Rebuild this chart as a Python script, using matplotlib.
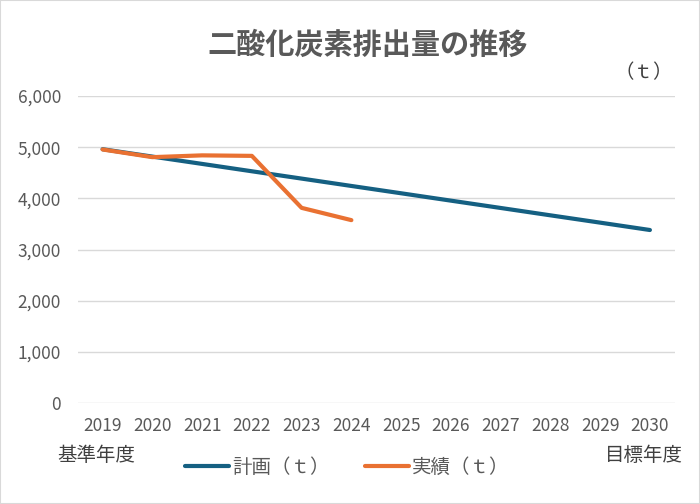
import matplotlib.pyplot as plt
from matplotlib.patches import Rectangle
from matplotlib.ticker import FuncFormatter

plt.rcParams['font.family'] = ['Noto Sans CJK JP', 'DejaVu Sans']

years = [2019, 2020, 2021, 2022, 2023, 2024, 2025, 2026, 2027, 2028, 2029, 2030]
plan = [4960, 4816, 4673, 4529, 4386, 4242, 4099, 3955, 3812, 3668, 3525, 3381]
actual = [4955, 4805, 4840, 4830, 3814, 3574]

fig = plt.figure(figsize=(7, 5.04), dpi=100)
ax = fig.add_axes([0.111, 0.2004, 0.853, 0.6091])

x = list(range(len(years)))
ax.plot(x, plan, color='#156082', lw=3, solid_capstyle='round', label='計画（ｔ）')
ax.plot(x[:len(actual)], actual, color='#E97132', lw=3, solid_capstyle='round', label='実績（ｔ）')

ax.set_xlim(-0.5, len(years) - 0.5)
ax.set_ylim(0, 6000)
ax.set_yticks(range(0, 6001, 1000))
ax.yaxis.set_major_formatter(FuncFormatter(lambda v, p: f'{int(v):,}'))
ax.set_xticks(x)
ax.set_xticklabels([str(y) for y in years])
ax.grid(axis='y', color='#D9D9D9', lw=1)
ax.set_axisbelow(True)
for s in ax.spines.values():
    s.set_visible(False)
ax.tick_params(length=0, labelsize=12.5, colors='#595959')
ax.tick_params(axis='x', pad=10)
ax.tick_params(axis='y', pad=12)

fig.text(0.525, 0.91, '二酸化炭素排出量の推移', ha='center', va='center',
         fontsize=21, color='#595959', fontweight='bold')
fig.text(0.92, 0.855, '（ｔ）', ha='center', va='center', fontsize=14, color='#404040')
fig.text(0.137, 0.097, '基準年度', ha='center', va='center', fontsize=14, color='#404040')
fig.text(0.92, 0.097, '目標年度', ha='center', va='center', fontsize=14, color='#404040')

leg = fig.legend(loc='center', bbox_to_anchor=(0.496, 0.072), ncol=2, frameon=False,
                 fontsize=14, handlelength=2.3, handletextpad=0.15, columnspacing=1.8)
for t in leg.get_texts():
    t.set_color('#595959')

fig.patches.append(Rectangle((0, 0), 1, 1, transform=fig.transFigure, fill=False,
                             edgecolor='#D9D9D9', lw=1.5))

fig.savefig('out.png', dpi=100)
